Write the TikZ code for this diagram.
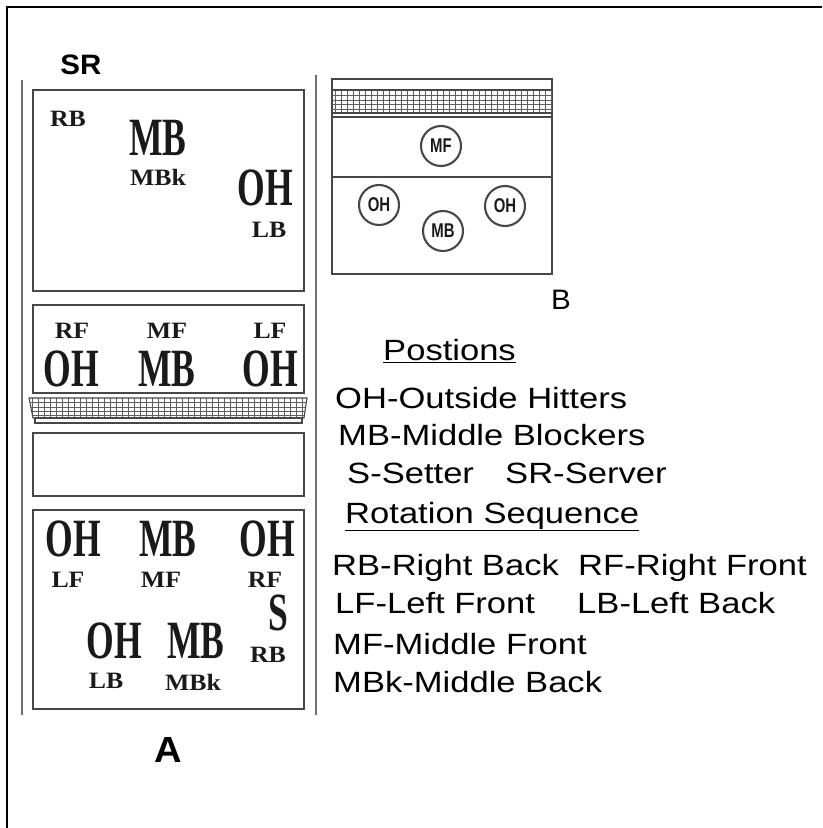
\documentclass[tikz,border=0pt]{standalone}
\usepackage{fontspec}
\setmainfont{Liberation Serif}
\newfontfamily\posfont[FakeStretch=0.66]{Liberation Serif}
\newfontfamily\tagfont[FakeStretch=1.1]{Liberation Serif}
\newfontfamily\keyfont[FakeStretch=1.18]{Liberation Sans}
\newfontfamily\markfont[FakeStretch=1.05]{Liberation Sans}
\newfontfamily\ringfont[FakeStretch=0.75]{Liberation Sans}
\usepackage{xcolor}
\definecolor{cInk}{HTML}{1A1A1A}
\definecolor{cLine}{HTML}{474747}
\definecolor{cSide}{HTML}{707070}
\definecolor{cNet}{HTML}{5E5E5E}
\usepackage{tikz}
\usetikzlibrary{calc}
\tikzset{
  court-line/.style={draw=cLine,line width=1.6pt},
  side-line/.style={draw=cSide,line width=1.2pt},
  frame-line/.style={draw=black,line width=1.8pt},
  net-grid/.style={draw=cNet,line width=0.7pt},
  net-rail/.style={draw=cLine,line width=0.9pt},
  pos-big/.style={inner sep=0pt,text=cInk,
    font=\posfont\bfseries\fontsize{46}{46}\selectfont},
  pos-tag/.style={inner sep=0pt,text=cInk,
    font=\tagfont\bfseries\fontsize{20}{20}\selectfont},
  pos-ring/.style={circle,draw=cLine,line width=1.8pt,minimum size=12mm,
    inner sep=0pt,text=cInk,font=\ringfont\bfseries\fontsize{17}{17}\selectfont},
  key-text/.style={anchor=base west,inner sep=0pt,text=black,
    font=\keyfont\fontsize{25}{25}\selectfont},
  panel-mark/.style={inner sep=0pt,text=black,
    font=\markfont\bfseries\fontsize{24}{24}\selectfont},
}

\begin{document}
\begin{tikzpicture}[x=0.3mm,y=-0.3mm]
  \useasboundingbox (0,0) rectangle (822,828);
  \draw[frame-line] (7,828) -- (7,7) -- (822,7);

  % panel A: court
  \draw[side-line] (22,80) -- (22,715);
  \draw[side-line] (316,75) -- (316,715);
  \draw[court-line] (33,90)  rectangle (304,291);
  \draw[court-line] (33,305) rectangle (304,393);
  \draw[court-line] (33,433) rectangle (304,496);
  \draw[court-line] (33,510) rectangle (304,709);
  \begin{scope}
    \clip (29,398) -- (307,398) -- (304,418) -- (33,418) -- cycle;
    \foreach \y in {402.5,407,411.5,415.5}
      \draw[net-grid] (29,\y) -- (307,\y);
    \foreach \x in {32,38,...,307}
      \draw[net-grid] (\x,398) -- (\x,418);
  \end{scope}
  \draw[net-rail] (29,398) -- (307,398) -- (304,418) -- (33,418) -- cycle;
  \draw[net-rail] (35,418) rectangle (302,423);

  \node[panel-mark] (sr) at (81,65) {SR};
  \node[panel-mark,font=\markfont\bfseries\fontsize{31}{31}\selectfont] (pa) at (168,750) {A};

  % back row, serving
  \node[pos-tag] (t-rb)  at (68,119)  {RB};
  \node[pos-big] (t-mb)  at (158,138) {MB};
  \node[pos-tag] (t-mbk) at (158,177) {MBk};
  \node[pos-big] (t-oh)  at (265,188) {OH};
  \node[pos-tag] (t-lb)  at (269,230) {LB};

  % front row
  \node[pos-tag] (f-rf)  at (72,331)  {RF};
  \node[pos-tag] (f-mf)  at (167,331) {MF};
  \node[pos-tag] (f-lf)  at (270,331) {LF};
  \node[pos-big] (f-oh1) at (71,369)  {OH};
  \node[pos-big] (f-mb)  at (167,369) {MB};
  \node[pos-big] (f-oh2) at (270,369) {OH};

  % receiving side
  \node[pos-big] (r-oh1) at (73,539)  {OH};
  \node[pos-big] (r-mb1) at (168,539) {MB};
  \node[pos-big] (r-oh2) at (267,539) {OH};
  \node[pos-tag] (r-lf)  at (68,580)  {LF};
  \node[pos-tag] (r-mf)  at (161,580) {MF};
  \node[pos-tag] (r-rf)  at (265,580) {RF};
  \node[pos-big] (r-s)   at (278,613) {S};
  \node[pos-big] (r-oh3) at (114,641) {OH};
  \node[pos-big] (r-mb2) at (196,641) {MB};
  \node[pos-tag] (r-rb)  at (268,655) {RB};
  \node[pos-tag] (r-lb)  at (106,681) {LB};
  \node[pos-tag] (r-mbk) at (193,682) {MBk};

  % panel B: block
  \draw[court-line] (332,79) rectangle (552,274);
  \begin{scope}
    \clip (332,90) rectangle (552,113);
    \foreach \y in {95,100,104.5,109}
      \draw[net-grid] (332,\y) -- (552,\y);
    \foreach \x in {335,341,...,552}
      \draw[net-grid] (\x,90) -- (\x,113);
  \end{scope}
  \draw[net-rail] (332,90) -- (552,90);
  \draw[net-rail] (332,113) -- (552,113);
  \draw[net-rail] (332,117) -- (552,117);
  \draw[court-line] (332,177) -- (552,177);
  \node[pos-ring] (b-mf)  at (441,146) {MF};
  \node[pos-ring] (b-oh1) at (379,205) {OH};
  \node[pos-ring] (b-mb)  at (443,231) {MB};
  \node[pos-ring] (b-oh2) at (505,206) {OH};
  \node[panel-mark,font=\markfont\fontsize{24}{24}\selectfont] (pb) at (561,300) {B};

  % legend
  \node[key-text] (k-head1) at (383,360) {\underline{Postions}};
  \node[key-text] (k-oh)    at (335,408) {OH-Outside Hitters};
  \node[key-text] (k-mb)    at (338,445) {MB-Middle Blockers};
  \node[key-text] (k-s)     at (347,483) {S-Setter};
  \node[key-text] (k-sr)    at (505,483) {SR-Server};
  \node[key-text] (k-head2) at (345,523) {\underline{Rotation Sequence}};
  \node[key-text] (k-rb)    at (332,575) {RB-Right Back};
  \node[key-text] (k-rf)    at (578,575) {RF-Right Front};
  \node[key-text] (k-lf)    at (335,613) {LF-Left Front};
  \node[key-text] (k-lb)    at (577,613) {LB-Left Back};
  \node[key-text] (k-mf)    at (333,654) {MF-Middle Front};
  \node[key-text] (k-mbk)   at (333,692) {MBk-Middle Back};
\end{tikzpicture}
\end{document}
